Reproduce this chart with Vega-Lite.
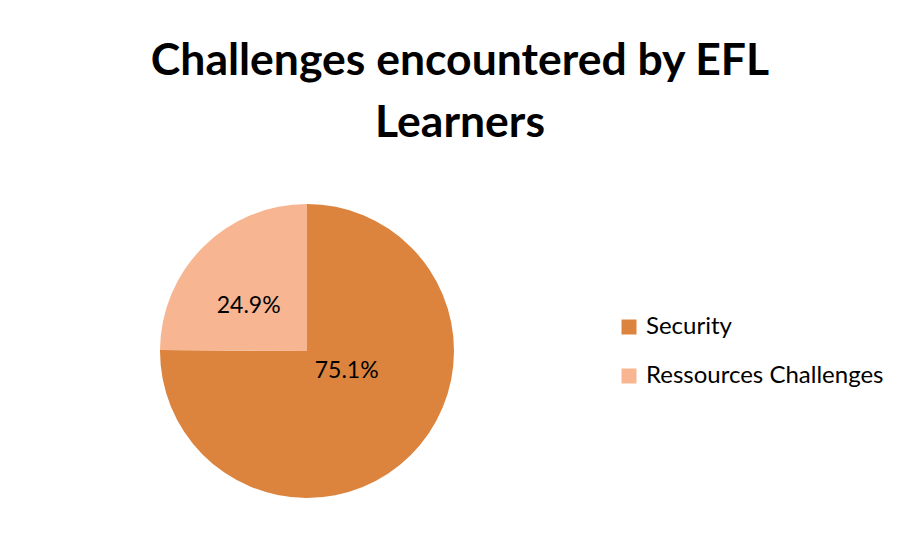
{
  "$schema": "https://vega.github.io/schema/vega-lite/v6.json",
  "autosize": "none",
  "padding": {"left": 0, "top": 150, "right": 284, "bottom": 0},
  "width": 614,
  "height": 402,
  "background": "white",
  "config": {"view": {"stroke": null}, "font": "Lato"},
  "title": {
    "text": ["Challenges encountered by EFL", "Learners"],
    "font": "Lato",
    "fontSize": 44.5,
    "fontWeight": "bold",
    "color": "black",
    "anchor": "middle",
    "dx": 153,
    "lineHeight": 62,
    "offset": 4
  },
  "data": {
    "values": [
      {"category": "Security", "value": 75.1, "order": 1, "label": "75.1%"},
      {"category": "Ressources Challenges", "value": 24.9, "order": 2, "label": "24.9%"}
    ]
  },
  "encoding": {
    "theta": {"field": "value", "type": "quantitative", "stack": true},
    "order": {"field": "order", "type": "quantitative"}
  },
  "layer": [
    {
      "mark": {"type": "arc", "outerRadius": 147},
      "encoding": {
        "color": {
          "field": "category",
          "type": "nominal",
          "scale": {"domain": ["Security", "Ressources Challenges"], "range": ["#DC843E", "#F8B591"]},
          "legend": {
            "title": null,
            "orient": "none",
            "legendX": 617,
            "legendY": 165,
            "symbolType": "square",
            "symbolSize": 225,
            "symbolStrokeWidth": 0,
            "labelFontSize": 24,
            "labelFont": "Lato",
            "labelColor": "black",
            "labelOffset": 5,
            "labelLimit": 400,
            "rowPadding": 25
          }
        }
      }
    },
    {
      "mark": {"type": "text", "radius": 35, "dx": 15, "dy": -5, "fontSize": 23, "font": "Lato", "color": "black"},
      "encoding": {
        "text": {"condition": {"test": "datum.category === 'Security'", "field": "label"}, "value": ""}
      }
    },
    {
      "mark": {"type": "text", "radius": 70, "dx": -9, "dy": 5, "fontSize": 23, "font": "Lato", "color": "black"},
      "encoding": {
        "text": {"condition": {"test": "datum.category === 'Ressources Challenges'", "field": "label"}, "value": ""}
      }
    }
  ]
}
